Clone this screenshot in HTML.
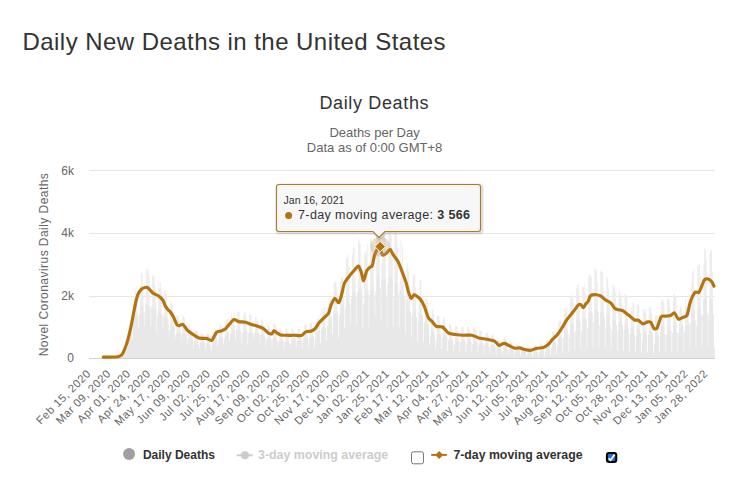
<!DOCTYPE html>
<html><head><meta charset="utf-8"><style>
html,body{margin:0;padding:0;background:#fff;width:742px;height:477px;overflow:hidden}
svg{display:block;font-family:"Liberation Sans",sans-serif}
</style></head><body>
<svg width="742" height="477" viewBox="0 0 742 477">
<text x="22.5" y="49.8" font-size="24" letter-spacing="0.45" fill="#333">Daily New Deaths in the United States</text>
<text x="374.3" y="109" font-size="18" letter-spacing="0.65" fill="#333" text-anchor="middle">Daily Deaths</text>
<text x="374.6" y="137.2" font-size="13" fill="#666" text-anchor="middle">Deaths per Day</text>
<text x="374.6" y="151.9" font-size="13" fill="#666" text-anchor="middle">Data as of 0:00 GMT+8</text>
<g fill="#e6e6e6" shape-rendering="crispEdges">
<rect x="89" y="170" width="626" height="1"/>
<rect x="89" y="233" width="626" height="1"/>
<rect x="89" y="296" width="626" height="1"/>
</g>
<g fill="#e9e9e9"><path fill="#ededed" d="M119.25 358.0 L119.25 356.10 L120.12 356.10 L120.12 356.40 L120.98 356.40 L120.98 354.86 L121.85 354.86 L121.85 352.23 L122.71 352.23 L122.71 350.06 L123.58 350.06 L123.58 347.90 L124.44 347.90 L124.44 345.78 L125.31 345.78 L125.31 348.34 L126.18 348.34 L126.18 351.02 L127.04 351.02 L127.04 347.59 L127.91 347.59 L127.91 331.43 L128.77 331.43 L128.77 327.11 L129.64 327.11 L129.64 322.78 L130.50 322.78 L130.50 323.62 L131.37 323.62 L131.37 331.28 L132.23 331.28 L132.23 339.22 L133.10 339.22 L133.10 323.06 L133.96 323.06 L133.96 296.17 L134.83 296.17 L134.83 290.53 L135.69 290.53 L135.69 286.31 L136.56 286.31 L136.56 297.12 L137.42 297.12 L137.42 316.24 L138.29 316.24 L138.29 327.91 L139.15 327.91 L139.15 313.45 L140.02 313.45 L140.02 285.65 L140.89 285.65 L140.89 271.71 L141.75 271.71 L141.75 273.93 L142.62 273.93 L142.62 290.00 L143.48 290.00 L143.48 311.65 L144.35 311.65 L144.35 326.41 L145.21 326.41 L145.21 302.45 L146.08 302.45 L146.08 269.25 L146.94 269.25 L146.94 269.25 L147.81 269.25 L147.81 270.18 L148.67 270.18 L148.67 276.05 L149.54 276.05 L149.54 306.63 L150.40 306.63 L150.40 326.35 L151.27 326.35 L151.27 305.04 L152.13 305.04 L152.13 275.58 L153.00 275.58 L153.00 276.67 L153.86 276.67 L153.86 277.23 L154.73 277.23 L154.73 285.51 L155.60 285.51 L155.60 303.29 L156.46 303.29 L156.46 333.50 L157.33 333.50 L157.33 315.80 L158.19 315.80 L158.19 282.30 L159.06 282.30 L159.06 287.83 L159.92 287.83 L159.92 281.99 L160.79 281.99 L160.79 288.49 L161.65 288.49 L161.65 315.75 L162.52 315.75 L162.52 328.63 L163.38 328.63 L163.38 314.38 L164.25 314.38 L164.25 290.42 L165.11 290.42 L165.11 292.95 L165.98 292.95 L165.98 294.28 L166.84 294.28 L166.84 310.32 L167.71 310.32 L167.71 317.93 L168.57 317.93 L168.57 335.52 L169.44 335.52 L169.44 330.16 L170.31 330.16 L170.31 300.69 L171.17 300.69 L171.17 302.37 L172.04 302.37 L172.04 304.06 L172.90 304.06 L172.90 313.96 L173.77 313.96 L173.77 327.24 L174.63 327.24 L174.63 340.60 L175.50 340.60 L175.50 334.45 L176.36 334.45 L176.36 315.31 L177.23 315.31 L177.23 315.83 L178.09 315.83 L178.09 316.35 L178.96 316.35 L178.96 323.64 L179.82 323.64 L179.82 329.53 L180.69 329.53 L180.69 342.21 L181.55 342.21 L181.55 334.10 L182.42 334.10 L182.42 315.33 L183.29 315.33 L183.29 316.71 L184.15 316.71 L184.15 318.10 L185.02 318.10 L185.02 329.39 L185.88 329.39 L185.88 333.01 L186.75 333.01 L186.75 344.72 L187.61 344.72 L187.61 338.24 L188.48 338.24 L188.48 325.76 L189.34 325.76 L189.34 324.91 L190.21 324.91 L190.21 329.43 L191.07 329.43 L191.07 328.71 L191.94 328.71 L191.94 336.60 L192.80 336.60 L192.80 349.09 L193.67 349.09 L193.67 341.73 L194.53 341.73 L194.53 331.78 L195.40 331.78 L195.40 330.11 L196.26 330.11 L196.26 330.78 L197.13 330.78 L197.13 331.44 L198.00 331.44 L198.00 344.80 L198.86 344.80 L198.86 349.38 L199.73 349.38 L199.73 342.27 L200.59 342.27 L200.59 332.60 L201.46 332.60 L201.46 332.79 L202.32 332.79 L202.32 334.44 L203.19 334.44 L203.19 335.19 L204.05 335.19 L204.05 342.49 L204.92 342.49 L204.92 349.26 L205.78 349.26 L205.78 344.63 L206.65 344.63 L206.65 333.19 L207.51 333.19 L207.51 333.59 L208.38 333.59 L208.38 333.99 L209.24 333.99 L209.24 337.65 L210.11 337.65 L210.11 345.50 L210.97 345.50 L210.97 350.30 L211.84 350.30 L211.84 342.78 L212.71 342.78 L212.71 332.49 L213.57 332.49 L213.57 332.21 L214.44 332.21 L214.44 328.76 L215.30 328.76 L215.30 329.13 L216.17 329.13 L216.17 333.46 L217.03 333.46 L217.03 346.18 L217.90 346.18 L217.90 339.71 L218.76 339.71 L218.76 327.55 L219.63 327.55 L219.63 324.02 L220.49 324.02 L220.49 323.72 L221.36 323.72 L221.36 329.89 L222.22 329.89 L222.22 337.61 L223.09 337.61 L223.09 344.54 L223.95 344.54 L223.95 338.87 L224.82 338.87 L224.82 321.15 L225.68 321.15 L225.68 319.92 L226.55 319.92 L226.55 318.65 L227.42 318.65 L227.42 318.28 L228.28 318.28 L228.28 332.05 L229.15 332.05 L229.15 341.29 L230.01 341.29 L230.01 333.67 L230.88 333.67 L230.88 312.69 L231.74 312.69 L231.74 317.82 L232.61 317.82 L232.61 316.83 L233.47 316.83 L233.47 311.72 L234.34 311.72 L234.34 329.89 L235.20 329.89 L235.20 340.04 L236.07 340.04 L236.07 329.33 L236.93 329.33 L236.93 311.13 L237.80 311.13 L237.80 311.61 L238.66 311.61 L238.66 311.92 L239.53 311.92 L239.53 317.92 L240.39 317.92 L240.39 331.61 L241.26 331.61 L241.26 342.94 L242.13 342.94 L242.13 333.03 L242.99 333.03 L242.99 315.24 L243.86 315.24 L243.86 312.49 L244.72 312.49 L244.72 312.59 L245.59 312.59 L245.59 317.22 L246.45 317.22 L246.45 331.30 L247.32 331.30 L247.32 345.31 L248.18 345.31 L248.18 332.99 L249.05 332.99 L249.05 314.56 L249.91 314.56 L249.91 314.98 L250.78 314.98 L250.78 315.37 L251.64 315.37 L251.64 323.10 L252.51 323.10 L252.51 333.92 L253.37 333.92 L253.37 340.24 L254.24 340.24 L254.24 332.46 L255.10 332.46 L255.10 316.98 L255.97 316.98 L255.97 317.30 L256.84 317.30 L256.84 320.44 L257.70 320.44 L257.70 321.38 L258.57 321.38 L258.57 332.40 L259.43 332.40 L259.43 343.31 L260.30 343.31 L260.30 334.51 L261.16 334.51 L261.16 319.60 L262.03 319.60 L262.03 320.00 L262.89 320.00 L262.89 325.80 L263.76 325.80 L263.76 326.37 L264.62 326.37 L264.62 337.66 L265.49 337.66 L265.49 345.55 L266.35 345.55 L266.35 339.54 L267.22 339.54 L267.22 325.27 L268.08 325.27 L268.08 326.29 L268.95 326.29 L268.95 326.72 L269.82 326.72 L269.82 329.68 L270.68 329.68 L270.68 338.66 L271.55 338.66 L271.55 347.48 L272.41 347.48 L272.41 339.54 L273.28 339.54 L273.28 323.67 L274.14 323.67 L274.14 324.09 L275.01 324.09 L275.01 324.76 L275.87 324.76 L275.87 327.61 L276.74 327.61 L276.74 340.89 L277.60 340.89 L277.60 345.94 L278.47 345.94 L278.47 341.75 L279.33 341.75 L279.33 328.53 L280.20 328.53 L280.20 328.53 L281.06 328.53 L281.06 329.91 L281.93 329.91 L281.93 331.42 L282.79 331.42 L282.79 341.03 L283.66 341.03 L283.66 348.91 L284.53 348.91 L284.53 342.78 L285.39 342.78 L285.39 328.83 L286.26 328.83 L286.26 328.87 L287.12 328.87 L287.12 331.94 L287.99 331.94 L287.99 332.37 L288.85 332.37 L288.85 342.96 L289.72 342.96 L289.72 346.24 L290.58 346.24 L290.58 344.03 L291.45 344.03 L291.45 328.83 L292.31 328.83 L292.31 328.82 L293.18 328.82 L293.18 332.72 L294.04 332.72 L294.04 331.61 L294.91 331.61 L294.91 338.51 L295.77 338.51 L295.77 347.73 L296.64 347.73 L296.64 341.22 L297.50 341.22 L297.50 328.90 L298.37 328.90 L298.37 328.92 L299.24 328.92 L299.24 328.94 L300.10 328.94 L300.10 332.85 L300.97 332.85 L300.97 339.35 L301.83 339.35 L301.83 349.04 L302.70 349.04 L302.70 339.41 L303.56 339.41 L303.56 326.13 L304.43 326.13 L304.43 325.67 L305.29 325.67 L305.29 324.53 L306.16 324.53 L306.16 324.31 L307.02 324.31 L307.02 335.66 L307.89 335.66 L307.89 347.46 L308.75 347.46 L308.75 337.63 L309.62 337.63 L309.62 323.42 L310.48 323.42 L310.48 323.19 L311.35 323.19 L311.35 322.80 L312.21 322.80 L312.21 333.85 L313.08 333.85 L313.08 335.67 L313.95 335.67 L313.95 347.27 L314.81 347.27 L314.81 338.48 L315.68 338.48 L315.68 322.11 L316.54 322.11 L316.54 319.17 L317.41 319.17 L317.41 318.49 L318.27 318.49 L318.27 315.71 L319.14 315.71 L319.14 326.05 L320.00 326.05 L320.00 343.21 L320.87 343.21 L320.87 328.71 L321.73 328.71 L321.73 308.57 L322.60 308.57 L322.60 312.76 L323.46 312.76 L323.46 306.34 L324.33 306.34 L324.33 309.89 L325.19 309.89 L325.19 327.51 L326.06 327.51 L326.06 340.50 L326.92 340.50 L326.92 325.77 L327.79 325.77 L327.79 302.53 L328.66 302.53 L328.66 301.28 L329.52 301.28 L329.52 294.86 L330.39 294.86 L330.39 300.52 L331.25 300.52 L331.25 318.46 L332.12 318.46 L332.12 334.10 L332.98 334.10 L332.98 311.33 L333.85 311.33 L333.85 282.17 L334.71 282.17 L334.71 281.46 L335.58 281.46 L335.58 282.74 L336.44 282.74 L336.44 289.02 L337.31 289.02 L337.31 311.07 L338.17 311.07 L338.17 337.57 L339.04 337.57 L339.04 315.40 L339.90 315.40 L339.90 280.82 L340.77 280.82 L340.77 277.70 L341.63 277.70 L341.63 278.01 L342.50 278.01 L342.50 276.24 L343.37 276.24 L343.37 297.03 L344.23 297.03 L344.23 328.57 L345.10 328.57 L345.10 308.43 L345.96 308.43 L345.96 257.65 L346.83 257.65 L346.83 259.00 L347.69 259.00 L347.69 254.42 L348.56 254.42 L348.56 266.82 L349.42 266.82 L349.42 303.68 L350.29 303.68 L350.29 323.23 L351.15 323.23 L351.15 298.18 L352.02 298.18 L352.02 254.15 L352.88 254.15 L352.88 245.94 L353.75 245.94 L353.75 248.09 L354.61 248.09 L354.61 277.59 L355.48 277.59 L355.48 296.12 L356.35 296.12 L356.35 324.27 L357.21 324.27 L357.21 292.16 L358.08 292.16 L358.08 238.91 L358.94 238.91 L358.94 241.41 L359.81 241.41 L359.81 243.91 L360.67 243.91 L360.67 263.40 L361.54 263.40 L361.54 289.01 L362.40 289.01 L362.40 328.89 L363.27 328.89 L363.27 303.94 L364.13 303.94 L364.13 253.62 L365.00 253.62 L365.00 250.62 L365.86 250.62 L365.86 252.94 L366.73 252.94 L366.73 244.51 L367.59 244.51 L367.59 290.35 L368.46 290.35 L368.46 327.33 L369.32 327.33 L369.32 294.88 L370.19 294.88 L370.19 239.19 L371.06 239.19 L371.06 238.30 L371.92 238.30 L371.92 243.95 L372.79 243.95 L372.79 246.46 L373.65 246.46 L373.65 295.71 L374.52 295.71 L374.52 317.45 L375.38 317.45 L375.38 291.16 L376.25 291.16 L376.25 233.44 L377.11 233.44 L377.11 216.72 L377.98 216.72 L377.98 218.10 L378.84 218.10 L378.84 231.80 L379.71 231.80 L379.71 287.55 L380.57 287.55 L380.57 320.38 L381.44 320.38 L381.44 262.85 L382.30 262.85 L382.30 233.22 L383.17 233.22 L383.17 222.85 L384.03 222.85 L384.03 224.71 L384.90 224.71 L384.90 238.20 L385.77 238.20 L385.77 295.35 L386.63 295.35 L386.63 326.89 L387.50 326.89 L387.50 284.09 L388.36 284.09 L388.36 217.35 L389.23 217.35 L389.23 216.09 L390.09 216.09 L390.09 224.65 L390.96 224.65 L390.96 235.74 L391.82 235.74 L391.82 259.31 L392.69 259.31 L392.69 326.76 L393.55 326.76 L393.55 296.58 L394.42 296.58 L394.42 225.45 L395.28 225.45 L395.28 227.02 L396.15 227.02 L396.15 228.60 L397.01 228.60 L397.01 246.69 L397.88 246.69 L397.88 293.72 L398.74 293.72 L398.74 327.31 L399.61 327.31 L399.61 281.95 L400.48 281.95 L400.48 240.44 L401.34 240.44 L401.34 265.55 L402.21 265.55 L402.21 246.21 L403.07 246.21 L403.07 272.76 L403.94 272.76 L403.94 296.37 L404.80 296.37 L404.80 333.94 L405.67 333.94 L405.67 299.10 L406.53 299.10 L406.53 262.93 L407.40 262.93 L407.40 267.45 L408.26 267.45 L408.26 271.29 L409.13 271.29 L409.13 286.13 L409.99 286.13 L409.99 311.95 L410.86 311.95 L410.86 337.15 L411.72 337.15 L411.72 316.24 L412.59 316.24 L412.59 276.16 L413.45 276.16 L413.45 274.73 L414.32 274.73 L414.32 274.48 L415.19 274.48 L415.19 287.71 L416.05 287.71 L416.05 317.08 L416.92 317.08 L416.92 340.53 L417.78 340.53 L417.78 321.22 L418.65 321.22 L418.65 297.01 L419.51 297.01 L419.51 279.42 L420.38 279.42 L420.38 281.05 L421.24 281.05 L421.24 295.23 L422.11 295.23 L422.11 314.47 L422.97 314.47 L422.97 341.44 L423.84 341.44 L423.84 323.30 L424.70 323.30 L424.70 305.36 L425.57 305.36 L425.57 295.60 L426.43 295.60 L426.43 298.82 L427.30 298.82 L427.30 302.48 L428.16 302.48 L428.16 323.88 L429.03 323.88 L429.03 344.90 L429.90 344.90 L429.90 336.05 L430.76 336.05 L430.76 316.13 L431.63 316.13 L431.63 308.90 L432.49 308.90 L432.49 310.20 L433.36 310.20 L433.36 314.50 L434.22 314.50 L434.22 334.19 L435.09 334.19 L435.09 348.45 L435.95 348.45 L435.95 340.61 L436.82 340.61 L436.82 315.42 L437.68 315.42 L437.68 315.53 L438.55 315.53 L438.55 315.65 L439.41 315.65 L439.41 320.34 L440.28 320.34 L440.28 335.92 L441.14 335.92 L441.14 348.99 L442.01 348.99 L442.01 338.10 L442.88 338.10 L442.88 317.19 L443.74 317.19 L443.74 318.32 L444.61 318.32 L444.61 321.09 L445.47 321.09 L445.47 328.03 L446.34 328.03 L446.34 335.54 L447.20 335.54 L447.20 350.95 L448.07 350.95 L448.07 340.36 L448.93 340.36 L448.93 324.36 L449.80 324.36 L449.80 324.59 L450.66 324.59 L450.66 326.89 L451.53 326.89 L451.53 329.63 L452.39 329.63 L452.39 340.40 L453.26 340.40 L453.26 351.18 L454.12 351.18 L454.12 344.78 L454.99 344.78 L454.99 325.95 L455.85 325.95 L455.85 326.04 L456.72 326.04 L456.72 326.13 L457.59 326.13 L457.59 337.37 L458.45 337.37 L458.45 340.75 L459.32 340.75 L459.32 352.24 L460.18 352.24 L460.18 342.69 L461.05 342.69 L461.05 326.57 L461.91 326.57 L461.91 326.66 L462.78 326.66 L462.78 326.75 L463.64 326.75 L463.64 330.58 L464.51 330.58 L464.51 341.11 L465.37 341.11 L465.37 351.92 L466.24 351.92 L466.24 344.64 L467.10 344.64 L467.10 326.75 L467.97 326.75 L467.97 326.74 L468.83 326.74 L468.83 328.88 L469.70 328.88 L469.70 331.59 L470.56 331.59 L470.56 342.24 L471.43 342.24 L471.43 351.85 L472.30 351.85 L472.30 343.91 L473.16 343.91 L473.16 327.63 L474.03 327.63 L474.03 328.09 L474.89 328.09 L474.89 328.54 L475.76 328.54 L475.76 330.33 L476.62 330.33 L476.62 342.48 L477.49 342.48 L477.49 353.06 L478.35 353.06 L478.35 345.90 L479.22 345.90 L479.22 330.49 L480.08 330.49 L480.08 330.68 L480.95 330.68 L480.95 330.87 L481.81 330.87 L481.81 338.60 L482.68 338.60 L482.68 344.43 L483.54 344.43 L483.54 354.06 L484.41 354.06 L484.41 345.87 L485.27 345.87 L485.27 333.38 L486.14 333.38 L486.14 332.45 L487.01 332.45 L487.01 332.27 L487.87 332.27 L487.87 336.68 L488.74 336.68 L488.74 347.37 L489.60 347.37 L489.60 353.51 L490.47 353.51 L490.47 344.56 L491.33 344.56 L491.33 335.84 L492.20 335.84 L492.20 333.96 L493.06 333.96 L493.06 335.58 L493.93 335.58 L493.93 339.18 L494.79 339.18 L494.79 346.70 L495.66 346.70 L495.66 354.97 L496.52 354.97 L496.52 347.66 L497.39 347.66 L497.39 338.64 L498.25 338.64 L498.25 339.81 L499.12 339.81 L499.12 340.22 L499.98 340.22 L499.98 344.79 L500.85 344.79 L500.85 348.86 L501.72 348.86 L501.72 354.65 L502.58 354.65 L502.58 350.75 L503.45 350.75 L503.45 337.79 L504.31 337.79 L504.31 337.64 L505.18 337.64 L505.18 338.22 L506.04 338.22 L506.04 339.65 L506.91 339.65 L506.91 349.15 L507.77 349.15 L507.77 355.44 L508.64 355.44 L508.64 349.97 L509.50 349.97 L509.50 341.10 L510.37 341.10 L510.37 341.68 L511.23 341.68 L511.23 342.26 L512.10 342.26 L512.10 343.10 L512.96 343.10 L512.96 350.59 L513.83 350.59 L513.83 355.93 L514.69 355.93 L514.69 351.43 L515.56 351.43 L515.56 345.59 L516.43 345.59 L516.43 343.67 L517.29 343.67 L517.29 344.98 L518.16 344.98 L518.16 343.57 L519.02 343.57 L519.02 350.37 L519.89 350.37 L519.89 355.93 L520.75 355.93 L520.75 352.14 L521.62 352.14 L521.62 347.25 L522.48 347.25 L522.48 345.00 L523.35 345.00 L523.35 345.40 L524.21 345.40 L524.21 348.45 L525.08 348.45 L525.08 351.66 L525.94 351.66 L525.94 356.22 L526.81 356.22 L526.81 353.70 L527.67 353.70 L527.67 346.31 L528.54 346.31 L528.54 346.46 L529.41 346.46 L529.41 346.61 L530.27 346.61 L530.27 348.64 L531.14 348.64 L531.14 351.89 L532.00 351.89 L532.00 356.63 L532.87 356.63 L532.87 352.64 L533.73 352.64 L533.73 345.15 L534.60 345.15 L534.60 344.88 L535.46 344.88 L535.46 344.35 L536.33 344.35 L536.33 346.74 L537.19 346.74 L537.19 352.55 L538.06 352.55 L538.06 356.16 L538.92 356.16 L538.92 352.46 L539.79 352.46 L539.79 343.40 L540.65 343.40 L540.65 343.30 L541.52 343.30 L541.52 343.17 L542.38 343.17 L542.38 346.43 L543.25 346.43 L543.25 350.36 L544.12 350.36 L544.12 356.12 L544.98 356.12 L544.98 351.16 L545.85 351.16 L545.85 340.43 L546.71 340.43 L546.71 339.69 L547.58 339.69 L547.58 339.45 L548.44 339.45 L548.44 343.05 L549.31 343.05 L549.31 346.34 L550.17 346.34 L550.17 355.01 L551.04 355.01 L551.04 348.04 L551.90 348.04 L551.90 331.92 L552.77 331.92 L552.77 330.64 L553.63 330.64 L553.63 332.02 L554.50 332.02 L554.50 335.26 L555.36 335.26 L555.36 342.81 L556.23 342.81 L556.23 354.20 L557.09 354.20 L557.09 345.24 L557.96 345.24 L557.96 322.92 L558.83 322.92 L558.83 321.12 L559.69 321.12 L559.69 319.33 L560.56 319.33 L560.56 320.79 L561.42 320.79 L561.42 338.62 L562.29 338.62 L562.29 353.17 L563.15 353.17 L563.15 338.10 L564.02 338.10 L564.02 309.73 L564.88 309.73 L564.88 307.70 L565.75 307.70 L565.75 311.61 L566.61 311.61 L566.61 306.39 L567.48 306.39 L567.48 333.86 L568.34 333.86 L568.34 351.81 L569.21 351.81 L569.21 337.30 L570.07 337.30 L570.07 297.61 L570.94 297.61 L570.94 296.08 L571.80 296.08 L571.80 294.55 L572.67 294.55 L572.67 299.49 L573.54 299.49 L573.54 331.80 L574.40 331.80 L574.40 350.67 L575.27 350.67 L575.27 331.12 L576.13 331.12 L576.13 288.67 L577.00 288.67 L577.00 285.25 L577.86 285.25 L577.86 283.70 L578.73 283.70 L578.73 295.85 L579.59 295.85 L579.59 321.50 L580.46 321.50 L580.46 349.93 L581.32 349.93 L581.32 331.06 L582.19 331.06 L582.19 287.25 L583.05 287.25 L583.05 286.98 L583.92 286.98 L583.92 284.99 L584.78 284.99 L584.78 292.21 L585.65 292.21 L585.65 318.81 L586.51 318.81 L586.51 349.63 L587.38 349.63 L587.38 328.15 L588.25 328.15 L588.25 276.28 L589.11 276.28 L589.11 274.75 L589.98 274.75 L589.98 273.95 L590.84 273.95 L590.84 277.58 L591.71 277.58 L591.71 312.96 L592.57 312.96 L592.57 348.51 L593.44 348.51 L593.44 322.55 L594.30 322.55 L594.30 269.00 L595.17 269.00 L595.17 268.78 L596.03 268.78 L596.03 271.04 L596.90 271.04 L596.90 281.93 L597.76 281.93 L597.76 311.99 L598.63 311.99 L598.63 348.56 L599.49 348.56 L599.49 325.22 L600.36 325.22 L600.36 270.61 L601.22 270.61 L601.22 271.61 L602.09 271.61 L602.09 272.62 L602.96 272.62 L602.96 286.99 L603.82 286.99 L603.82 317.58 L604.69 317.58 L604.69 349.17 L605.55 349.17 L605.55 328.35 L606.42 328.35 L606.42 277.14 L607.28 277.14 L607.28 277.85 L608.15 277.85 L608.15 288.29 L609.01 288.29 L609.01 300.63 L609.88 300.63 L609.88 325.45 L610.74 325.45 L610.74 349.75 L611.61 349.75 L611.61 331.08 L612.47 331.08 L612.47 284.21 L613.34 284.21 L613.34 285.84 L614.20 285.84 L614.20 287.58 L615.07 287.58 L615.07 292.64 L615.94 292.64 L615.94 325.18 L616.80 325.18 L616.80 350.61 L617.67 350.61 L617.67 331.47 L618.53 331.47 L618.53 292.01 L619.40 292.01 L619.40 290.16 L620.26 290.16 L620.26 297.40 L621.13 297.40 L621.13 294.81 L621.99 294.81 L621.99 325.40 L622.86 325.40 L622.86 350.89 L623.72 350.89 L623.72 329.94 L624.59 329.94 L624.59 293.47 L625.45 293.47 L625.45 294.37 L626.32 294.37 L626.32 295.28 L627.18 295.28 L627.18 315.99 L628.05 315.99 L628.05 329.32 L628.91 329.32 L628.91 351.58 L629.78 351.58 L629.78 333.44 L630.65 333.44 L630.65 306.91 L631.51 306.91 L631.51 310.41 L632.38 310.41 L632.38 302.20 L633.24 302.20 L633.24 303.23 L634.11 303.23 L634.11 334.73 L634.97 334.73 L634.97 352.24 L635.84 352.24 L635.84 336.41 L636.70 336.41 L636.70 304.39 L637.57 304.39 L637.57 304.49 L638.43 304.49 L638.43 305.13 L639.30 305.13 L639.30 320.27 L640.16 320.27 L640.16 333.25 L641.03 333.25 L641.03 352.63 L641.89 352.63 L641.89 341.24 L642.76 341.24 L642.76 309.45 L643.62 309.45 L643.62 308.93 L644.49 308.93 L644.49 312.54 L645.36 312.54 L645.36 309.27 L646.22 309.27 L646.22 334.63 L647.09 334.63 L647.09 352.52 L647.95 352.52 L647.95 334.63 L648.82 334.63 L648.82 307.10 L649.68 307.10 L649.68 307.29 L650.55 307.29 L650.55 307.68 L651.41 307.68 L651.41 313.20 L652.28 313.20 L652.28 335.25 L653.14 335.25 L653.14 353.39 L654.01 353.39 L654.01 343.92 L654.87 343.92 L654.87 315.73 L655.74 315.73 L655.74 315.45 L656.60 315.45 L656.60 315.18 L657.47 315.18 L657.47 324.03 L658.33 324.03 L658.33 335.79 L659.20 335.79 L659.20 352.37 L660.07 352.37 L660.07 332.14 L660.93 332.14 L660.93 301.72 L661.80 301.72 L661.80 299.49 L662.66 299.49 L662.66 299.62 L663.53 299.62 L663.53 303.29 L664.39 303.29 L664.39 334.70 L665.26 334.70 L665.26 351.64 L666.12 351.64 L666.12 334.85 L666.99 334.85 L666.99 298.40 L667.85 298.40 L667.85 298.27 L668.72 298.27 L668.72 300.16 L669.58 300.16 L669.58 307.10 L670.45 307.10 L670.45 331.29 L671.31 331.29 L671.31 351.44 L672.18 351.44 L672.18 333.56 L673.04 333.56 L673.04 295.05 L673.91 295.05 L673.91 294.22 L674.78 294.22 L674.78 295.94 L675.64 295.94 L675.64 297.85 L676.51 297.85 L676.51 332.57 L677.37 332.57 L677.37 351.96 L678.24 351.96 L678.24 332.85 L679.10 332.85 L679.10 310.59 L679.97 310.59 L679.97 305.29 L680.83 305.29 L680.83 307.40 L681.70 307.40 L681.70 311.17 L682.56 311.17 L682.56 325.02 L683.43 325.02 L683.43 351.75 L684.29 351.75 L684.29 331.74 L685.16 331.74 L685.16 298.48 L686.02 298.48 L686.02 306.52 L686.89 306.52 L686.89 309.46 L687.75 309.46 L687.75 296.61 L688.62 296.61 L688.62 324.25 L689.49 324.25 L689.49 349.74 L690.35 349.74 L690.35 322.57 L691.22 322.57 L691.22 282.76 L692.08 282.76 L692.08 272.70 L692.95 272.70 L692.95 270.12 L693.81 270.12 L693.81 288.78 L694.68 288.78 L694.68 320.27 L695.54 320.27 L695.54 348.10 L696.41 348.10 L696.41 325.28 L697.27 325.28 L697.27 265.60 L698.14 265.60 L698.14 265.60 L699.00 265.60 L699.00 263.78 L699.87 263.78 L699.87 277.12 L700.73 277.12 L700.73 314.41 L701.60 314.41 L701.60 347.05 L702.47 347.05 L702.47 315.18 L703.33 315.18 L703.33 263.72 L704.20 263.72 L704.20 247.87 L705.06 247.87 L705.06 250.58 L705.93 250.58 L705.93 260.11 L706.79 260.11 L706.79 313.47 L707.66 313.47 L707.66 346.09 L708.52 346.09 L708.52 315.51 L709.39 315.51 L709.39 253.89 L710.25 253.89 L710.25 249.70 L711.12 249.70 L711.12 250.69 L711.98 250.69 L711.98 272.00 L712.85 272.00 L712.85 314.80 L713.71 314.80 L713.71 347.15 L714.58 347.15 L714.58 358.0 Z"/><path fill="#e8e8e8" d="M119.25 358.0 L119.25 356.16 L120.12 356.16 L120.12 356.40 L120.98 356.40 L120.98 355.08 L121.85 355.08 L121.85 354.54 L122.71 354.54 L122.71 353.24 L123.58 353.24 L123.58 351.68 L124.44 351.68 L124.44 350.13 L125.31 350.13 L125.31 348.57 L126.18 348.57 L126.18 351.02 L127.04 351.02 L127.04 347.59 L127.91 347.59 L127.91 342.06 L128.77 342.06 L128.77 339.46 L129.64 339.46 L129.64 336.87 L130.50 336.87 L130.50 334.27 L131.37 334.27 L131.37 331.28 L132.23 331.28 L132.23 339.22 L133.10 339.22 L133.10 324.28 L133.96 324.28 L133.96 320.90 L134.83 320.90 L134.83 317.52 L135.69 317.52 L135.69 314.98 L136.56 314.98 L136.56 312.61 L137.42 312.61 L137.42 316.24 L138.29 316.24 L138.29 327.91 L139.15 327.91 L139.15 313.45 L140.02 313.45 L140.02 307.17 L140.89 307.17 L140.89 306.22 L141.75 306.22 L141.75 305.77 L142.62 305.77 L142.62 305.44 L143.48 305.44 L143.48 311.65 L144.35 311.65 L144.35 326.41 L145.21 326.41 L145.21 304.75 L146.08 304.75 L146.08 304.75 L146.94 304.75 L146.94 304.75 L147.81 304.75 L147.81 305.31 L148.67 305.31 L148.67 305.95 L149.54 305.95 L149.54 306.63 L150.40 306.63 L150.40 326.35 L151.27 326.35 L151.27 307.90 L152.13 307.90 L152.13 308.55 L153.00 308.55 L153.00 309.20 L153.86 309.20 L153.86 309.54 L154.73 309.54 L154.73 309.85 L155.60 309.85 L155.60 310.16 L156.46 310.16 L156.46 333.50 L157.33 333.50 L157.33 315.80 L158.19 315.80 L158.19 311.10 L159.06 311.10 L159.06 311.73 L159.92 311.73 L159.92 312.39 L160.79 312.39 L160.79 313.06 L161.65 313.06 L161.65 315.75 L162.52 315.75 L162.52 328.63 L163.38 328.63 L163.38 315.89 L164.25 315.89 L164.25 317.45 L165.11 317.45 L165.11 318.97 L165.98 318.97 L165.98 319.77 L166.84 319.77 L166.84 320.56 L167.71 320.56 L167.71 321.36 L168.57 321.36 L168.57 335.52 L169.44 335.52 L169.44 330.16 L170.31 330.16 L170.31 323.61 L171.17 323.61 L171.17 324.62 L172.04 324.62 L172.04 325.64 L172.90 325.64 L172.90 326.65 L173.77 326.65 L173.77 328.09 L174.63 328.09 L174.63 340.60 L175.50 340.60 L175.50 334.45 L176.36 334.45 L176.36 332.38 L177.23 332.38 L177.23 332.70 L178.09 332.70 L178.09 333.01 L178.96 333.01 L178.96 333.32 L179.82 333.32 L179.82 333.08 L180.69 333.08 L180.69 342.21 L181.55 342.21 L181.55 334.10 L182.42 334.10 L182.42 332.40 L183.29 332.40 L183.29 333.23 L184.15 333.23 L184.15 334.06 L185.02 334.06 L185.02 334.89 L185.88 334.89 L185.88 335.71 L186.75 335.71 L186.75 344.72 L187.61 344.72 L187.61 338.24 L188.48 338.24 L188.48 337.65 L189.34 337.65 L189.34 338.15 L190.21 338.15 L190.21 338.64 L191.07 338.64 L191.07 339.13 L191.94 339.13 L191.94 339.62 L192.80 339.62 L192.80 349.09 L193.67 349.09 L193.67 341.73 L194.53 341.73 L194.53 340.87 L195.40 340.87 L195.40 341.27 L196.26 341.27 L196.26 341.67 L197.13 341.67 L197.13 342.06 L198.00 342.06 L198.00 344.80 L198.86 344.80 L198.86 349.38 L199.73 349.38 L199.73 342.64 L200.59 342.64 L200.59 342.76 L201.46 342.76 L201.46 342.87 L202.32 342.87 L202.32 342.92 L203.19 342.92 L203.19 342.92 L204.05 342.92 L204.05 342.92 L204.92 342.92 L204.92 349.26 L205.78 349.26 L205.78 344.63 L206.65 344.63 L206.65 343.11 L207.51 343.11 L207.51 343.35 L208.38 343.35 L208.38 343.59 L209.24 343.59 L209.24 343.84 L210.11 343.84 L210.11 345.50 L210.97 345.50 L210.97 350.30 L211.84 350.30 L211.84 343.81 L212.71 343.81 L212.71 342.70 L213.57 342.70 L213.57 341.58 L214.44 341.58 L214.44 340.46 L215.30 340.46 L215.30 339.34 L216.17 339.34 L216.17 338.33 L217.03 338.33 L217.03 346.18 L217.90 346.18 L217.90 339.71 L218.76 339.71 L218.76 337.79 L219.63 337.79 L219.63 337.61 L220.49 337.61 L220.49 337.43 L221.36 337.43 L221.36 337.16 L222.22 337.16 L222.22 337.61 L223.09 337.61 L223.09 344.54 L223.95 344.54 L223.95 338.87 L224.82 338.87 L224.82 335.89 L225.68 335.89 L225.68 335.15 L226.55 335.15 L226.55 334.39 L227.42 334.39 L227.42 333.63 L228.28 333.63 L228.28 332.87 L229.15 332.87 L229.15 341.29 L230.01 341.29 L230.01 333.67 L230.88 333.67 L230.88 330.81 L231.74 330.81 L231.74 330.15 L232.61 330.15 L232.61 329.49 L233.47 329.49 L233.47 328.82 L234.34 328.82 L234.34 329.89 L235.20 329.89 L235.20 340.04 L236.07 340.04 L236.07 329.59 L236.93 329.59 L236.93 329.88 L237.80 329.88 L237.80 330.17 L238.66 330.17 L238.66 330.35 L239.53 330.35 L239.53 330.41 L240.39 330.41 L240.39 331.61 L241.26 331.61 L241.26 342.94 L242.13 342.94 L242.13 333.03 L242.99 333.03 L242.99 330.64 L243.86 330.64 L243.86 330.69 L244.72 330.69 L244.72 330.75 L245.59 330.75 L245.59 330.93 L246.45 330.93 L246.45 331.30 L247.32 331.30 L247.32 345.31 L248.18 345.31 L248.18 332.99 L249.05 332.99 L249.05 331.94 L249.91 331.94 L249.91 332.19 L250.78 332.19 L250.78 332.42 L251.64 332.42 L251.64 332.61 L252.51 332.61 L252.51 333.92 L253.37 333.92 L253.37 340.24 L254.24 340.24 L254.24 333.19 L255.10 333.19 L255.10 333.39 L255.97 333.39 L255.97 333.58 L256.84 333.58 L256.84 333.78 L257.70 333.78 L257.70 334.00 L258.57 334.00 L258.57 334.24 L259.43 334.24 L259.43 343.31 L260.30 343.31 L260.30 334.72 L261.16 334.72 L261.16 334.96 L262.03 334.96 L262.03 335.20 L262.89 335.20 L262.89 335.56 L263.76 335.56 L263.76 336.11 L264.62 336.11 L264.62 337.66 L265.49 337.66 L265.49 345.55 L266.35 345.55 L266.35 339.54 L267.22 339.54 L267.22 338.36 L268.08 338.36 L268.08 338.97 L268.95 338.97 L268.95 339.23 L269.82 339.23 L269.82 339.32 L270.68 339.32 L270.68 339.40 L271.55 339.40 L271.55 347.48 L272.41 347.48 L272.41 339.54 L273.28 339.54 L273.28 337.40 L274.14 337.40 L274.14 337.66 L275.01 337.66 L275.01 338.05 L275.87 338.05 L275.87 338.45 L276.74 338.45 L276.74 340.89 L277.60 340.89 L277.60 345.94 L278.47 345.94 L278.47 341.75 L279.33 341.75 L279.33 339.97 L280.20 339.97 L280.20 340.35 L281.06 340.35 L281.06 340.40 L281.93 340.40 L281.93 340.43 L282.79 340.43 L282.79 341.03 L283.66 341.03 L283.66 348.91 L284.53 348.91 L284.53 342.78 L285.39 342.78 L285.39 340.56 L286.26 340.56 L286.26 340.59 L287.12 340.59 L287.12 340.60 L287.99 340.60 L287.99 340.60 L288.85 340.60 L288.85 342.96 L289.72 342.96 L289.72 346.24 L290.58 346.24 L290.58 344.03 L291.45 344.03 L291.45 340.60 L292.31 340.60 L292.31 340.60 L293.18 340.60 L293.18 340.60 L294.04 340.60 L294.04 340.61 L294.91 340.61 L294.91 340.63 L295.77 340.63 L295.77 347.73 L296.64 347.73 L296.64 341.22 L297.50 341.22 L297.50 340.68 L298.37 340.68 L298.37 340.70 L299.24 340.70 L299.24 340.71 L300.10 340.71 L300.10 340.73 L300.97 340.73 L300.97 340.75 L301.83 340.75 L301.83 349.04 L302.70 349.04 L302.70 339.66 L303.56 339.66 L303.56 339.08 L304.43 339.08 L304.43 338.50 L305.29 338.50 L305.29 338.14 L306.16 338.14 L306.16 338.01 L307.02 338.01 L307.02 337.89 L307.89 337.89 L307.89 347.46 L308.75 347.46 L308.75 337.64 L309.62 337.64 L309.62 337.51 L310.48 337.51 L310.48 337.38 L311.35 337.38 L311.35 337.16 L312.21 337.16 L312.21 336.73 L313.08 336.73 L313.08 336.31 L313.95 336.31 L313.95 347.27 L314.81 347.27 L314.81 338.48 L315.68 338.48 L315.68 334.52 L316.54 334.52 L316.54 333.54 L317.41 333.54 L317.41 332.57 L318.27 332.57 L318.27 331.59 L319.14 331.59 L319.14 330.80 L320.00 330.80 L320.00 343.21 L320.87 343.21 L320.87 329.50 L321.73 329.50 L321.73 328.85 L322.60 328.85 L322.60 328.20 L323.46 328.20 L323.46 327.55 L324.33 327.55 L324.33 326.90 L325.19 326.90 L325.19 327.51 L326.06 327.51 L326.06 340.50 L326.92 340.50 L326.92 325.77 L327.79 325.77 L327.79 324.31 L328.66 324.31 L328.66 322.65 L329.52 322.65 L329.52 320.52 L330.39 320.52 L330.39 318.40 L331.25 318.40 L331.25 318.46 L332.12 318.46 L332.12 334.10 L332.98 334.10 L332.98 314.66 L333.85 314.66 L333.85 313.48 L334.71 313.48 L334.71 313.08 L335.58 313.08 L335.58 313.85 L336.44 313.85 L336.44 314.61 L337.31 314.61 L337.31 315.38 L338.17 315.38 L338.17 337.57 L339.04 337.57 L339.04 315.40 L339.90 315.40 L339.90 312.80 L340.77 312.80 L340.77 310.98 L341.63 310.98 L341.63 308.74 L342.50 308.74 L342.50 306.12 L343.37 306.12 L343.37 303.50 L344.23 303.50 L344.23 328.57 L345.10 328.57 L345.10 308.43 L345.96 308.43 L345.96 299.35 L346.83 299.35 L346.83 298.43 L347.69 298.43 L347.69 297.51 L348.56 297.51 L348.56 296.58 L349.42 296.58 L349.42 303.68 L350.29 303.68 L350.29 323.23 L351.15 323.23 L351.15 298.18 L352.02 298.18 L352.02 293.43 L352.88 293.43 L352.88 292.68 L353.75 292.68 L353.75 291.94 L354.61 291.94 L354.61 291.29 L355.48 291.29 L355.48 296.12 L356.35 296.12 L356.35 324.27 L357.21 324.27 L357.21 292.16 L358.08 292.16 L358.08 288.71 L358.94 288.71 L358.94 290.19 L359.81 290.19 L359.81 291.67 L360.67 291.67 L360.67 293.15 L361.54 293.15 L361.54 295.22 L362.40 295.22 L362.40 328.89 L363.27 328.89 L363.27 303.94 L364.13 303.94 L364.13 297.41 L365.00 297.41 L365.00 295.33 L365.86 295.33 L365.86 293.25 L366.73 293.25 L366.73 292.00 L367.59 292.00 L367.59 291.20 L368.46 291.20 L368.46 327.33 L369.32 327.33 L369.32 294.88 L370.19 294.88 L370.19 289.19 L371.06 289.19 L371.06 288.69 L371.92 288.69 L371.92 288.20 L372.79 288.20 L372.79 285.30 L373.65 285.30 L373.65 295.71 L374.52 295.71 L374.52 317.45 L375.38 317.45 L375.38 291.16 L376.25 291.16 L376.25 277.58 L377.11 277.58 L377.11 276.38 L377.98 276.38 L377.98 275.19 L378.84 275.19 L378.84 274.83 L379.71 274.83 L379.71 287.55 L380.57 287.55 L380.57 320.38 L381.44 320.38 L381.44 279.09 L382.30 279.09 L382.30 280.44 L383.17 280.44 L383.17 280.10 L384.03 280.10 L384.03 279.77 L384.90 279.77 L384.90 279.44 L385.77 279.44 L385.77 295.35 L386.63 295.35 L386.63 326.89 L387.50 326.89 L387.50 284.09 L388.36 284.09 L388.36 277.08 L389.23 277.08 L389.23 276.38 L390.09 276.38 L390.09 276.60 L390.96 276.60 L390.96 277.76 L391.82 277.76 L391.82 278.92 L392.69 278.92 L392.69 326.76 L393.55 326.76 L393.55 296.58 L394.42 296.58 L394.42 281.91 L395.28 281.91 L395.28 282.84 L396.15 282.84 L396.15 283.77 L397.01 283.77 L397.01 284.70 L397.88 284.70 L397.88 293.72 L398.74 293.72 L398.74 327.31 L399.61 327.31 L399.61 289.04 L400.48 289.04 L400.48 290.67 L401.34 290.67 L401.34 292.29 L402.21 292.29 L402.21 293.94 L403.07 293.94 L403.07 295.75 L403.94 295.75 L403.94 297.55 L404.80 297.55 L404.80 333.94 L405.67 333.94 L405.67 301.17 L406.53 301.17 L406.53 303.67 L407.40 303.67 L407.40 306.27 L408.26 306.27 L408.26 308.48 L409.13 308.48 L409.13 309.96 L409.99 309.96 L409.99 311.95 L410.86 311.95 L410.86 337.15 L411.72 337.15 L411.72 316.24 L412.59 316.24 L412.59 311.33 L413.45 311.33 L413.45 310.53 L414.32 310.53 L414.32 310.40 L415.19 310.40 L415.19 310.89 L416.05 310.89 L416.05 317.08 L416.92 317.08 L416.92 340.53 L417.78 340.53 L417.78 321.22 L418.65 321.22 L418.65 312.82 L419.51 312.82 L419.51 313.31 L420.38 313.31 L420.38 314.25 L421.24 314.25 L421.24 315.38 L422.11 315.38 L422.11 316.51 L422.97 316.51 L422.97 341.44 L423.84 341.44 L423.84 323.30 L424.70 323.30 L424.70 320.75 L425.57 320.75 L425.57 322.59 L426.43 322.59 L426.43 324.42 L427.30 324.42 L427.30 326.26 L428.16 326.26 L428.16 327.55 L429.03 327.55 L429.03 344.90 L429.90 344.90 L429.90 336.05 L430.76 336.05 L430.76 329.50 L431.63 329.50 L431.63 330.20 L432.49 330.20 L432.49 330.94 L433.36 330.94 L433.36 331.69 L434.22 331.69 L434.22 334.19 L435.09 334.19 L435.09 348.45 L435.95 348.45 L435.95 340.61 L436.82 340.61 L436.82 333.93 L437.68 333.93 L437.68 334.00 L438.55 334.00 L438.55 334.08 L439.41 334.08 L439.41 334.15 L440.28 334.15 L440.28 335.92 L441.14 335.92 L441.14 348.99 L442.01 348.99 L442.01 338.10 L442.88 338.10 L442.88 334.98 L443.74 334.98 L443.74 335.63 L444.61 335.63 L444.61 336.28 L445.47 336.28 L445.47 336.93 L446.34 336.93 L446.34 337.58 L447.20 337.58 L447.20 350.95 L448.07 350.95 L448.07 340.36 L448.93 340.36 L448.93 339.07 L449.80 339.07 L449.80 339.20 L450.66 339.20 L450.66 339.34 L451.53 339.34 L451.53 339.47 L452.39 339.47 L452.39 340.40 L453.26 340.40 L453.26 351.18 L454.12 351.18 L454.12 344.78 L454.99 344.78 L454.99 340.00 L455.85 340.00 L455.85 340.06 L456.72 340.06 L456.72 340.11 L457.59 340.11 L457.59 340.17 L458.45 340.17 L458.45 340.75 L459.32 340.75 L459.32 352.24 L460.18 352.24 L460.18 342.69 L461.05 342.69 L461.05 340.39 L461.91 340.39 L461.91 340.44 L462.78 340.44 L462.78 340.50 L463.64 340.50 L463.64 340.52 L464.51 340.52 L464.51 341.11 L465.37 341.11 L465.37 351.92 L466.24 351.92 L466.24 344.64 L467.10 344.64 L467.10 340.52 L467.97 340.52 L467.97 340.52 L468.83 340.52 L468.83 340.52 L469.70 340.52 L469.70 340.52 L470.56 340.52 L470.56 342.24 L471.43 342.24 L471.43 351.85 L472.30 351.85 L472.30 343.91 L473.16 343.91 L473.16 341.06 L474.03 341.06 L474.03 341.32 L474.89 341.32 L474.89 341.57 L475.76 341.57 L475.76 341.83 L476.62 341.83 L476.62 342.48 L477.49 342.48 L477.49 353.06 L478.35 353.06 L478.35 345.90 L479.22 345.90 L479.22 342.68 L480.08 342.68 L480.08 342.80 L480.95 342.80 L480.95 342.91 L481.81 342.91 L481.81 343.02 L482.68 343.02 L482.68 344.43 L483.54 344.43 L483.54 354.06 L484.41 354.06 L484.41 345.87 L485.27 345.87 L485.27 343.46 L486.14 343.46 L486.14 343.57 L487.01 343.57 L487.01 343.72 L487.87 343.72 L487.87 343.88 L488.74 343.88 L488.74 347.37 L489.60 347.37 L489.60 353.51 L490.47 353.51 L490.47 344.56 L491.33 344.56 L491.33 344.52 L492.20 344.52 L492.20 344.68 L493.06 344.68 L493.06 344.84 L493.93 344.84 L493.93 345.00 L494.79 345.00 L494.79 346.70 L495.66 346.70 L495.66 354.97 L496.52 354.97 L496.52 347.66 L497.39 347.66 L497.39 347.29 L498.25 347.29 L498.25 347.94 L499.12 347.94 L499.12 348.02 L499.98 348.02 L499.98 347.79 L500.85 347.79 L500.85 348.86 L501.72 348.86 L501.72 354.65 L502.58 354.65 L502.58 350.75 L503.45 350.75 L503.45 346.84 L504.31 346.84 L504.31 346.77 L505.18 346.77 L505.18 347.09 L506.04 347.09 L506.04 347.41 L506.91 347.41 L506.91 349.15 L507.77 349.15 L507.77 355.44 L508.64 355.44 L508.64 349.97 L509.50 349.97 L509.50 348.69 L510.37 348.69 L510.37 349.01 L511.23 349.01 L511.23 349.33 L512.10 349.33 L512.10 349.66 L512.96 349.66 L512.96 350.59 L513.83 350.59 L513.83 355.93 L514.69 355.93 L514.69 351.43 L515.56 351.43 L515.56 350.15 L516.43 350.15 L516.43 350.12 L517.29 350.12 L517.29 350.10 L518.16 350.10 L518.16 350.08 L519.02 350.08 L519.02 350.37 L519.89 350.37 L519.89 355.93 L520.75 355.93 L520.75 352.14 L521.62 352.14 L521.62 350.65 L522.48 350.65 L522.48 350.87 L523.35 350.87 L523.35 351.09 L524.21 351.09 L524.21 351.27 L525.08 351.27 L525.08 351.66 L525.94 351.66 L525.94 356.22 L526.81 356.22 L526.81 353.70 L527.67 353.70 L527.67 351.60 L528.54 351.60 L528.54 351.69 L529.41 351.69 L529.41 351.77 L530.27 351.77 L530.27 351.85 L531.14 351.85 L531.14 351.89 L532.00 351.89 L532.00 356.63 L532.87 356.63 L532.87 352.64 L533.73 352.64 L533.73 350.98 L534.60 350.98 L534.60 350.77 L535.46 350.77 L535.46 350.55 L536.33 350.55 L536.33 350.33 L537.19 350.33 L537.19 352.55 L538.06 352.55 L538.06 356.16 L538.92 356.16 L538.92 352.46 L539.79 352.46 L539.79 350.04 L540.65 350.04 L540.65 349.98 L541.52 349.98 L541.52 349.92 L542.38 349.92 L542.38 349.86 L543.25 349.86 L543.25 350.36 L544.12 350.36 L544.12 356.12 L544.98 356.12 L544.98 351.16 L545.85 351.16 L545.85 348.45 L546.71 348.45 L546.71 348.05 L547.58 348.05 L547.58 347.64 L548.44 347.64 L548.44 346.88 L549.31 346.88 L549.31 346.34 L550.17 346.34 L550.17 355.01 L551.04 355.01 L551.04 348.04 L551.90 348.04 L551.90 343.84 L552.77 343.84 L552.77 343.16 L553.63 343.16 L553.63 342.52 L554.50 342.52 L554.50 341.89 L555.36 341.89 L555.36 342.81 L556.23 342.81 L556.23 354.20 L557.09 354.20 L557.09 345.24 L557.96 345.24 L557.96 339.00 L558.83 339.00 L558.83 338.04 L559.69 338.04 L559.69 337.07 L560.56 337.07 L560.56 336.10 L561.42 336.10 L561.42 338.62 L562.29 338.62 L562.29 353.17 L563.15 353.17 L563.15 338.10 L564.02 338.10 L564.02 331.91 L564.88 331.91 L564.88 330.82 L565.75 330.82 L565.75 329.73 L566.61 329.73 L566.61 328.69 L567.48 328.69 L567.48 333.86 L568.34 333.86 L568.34 351.81 L569.21 351.81 L569.21 337.30 L570.07 337.30 L570.07 325.43 L570.94 325.43 L570.94 324.62 L571.80 324.62 L571.80 323.81 L572.67 323.81 L572.67 322.99 L573.54 322.99 L573.54 331.80 L574.40 331.80 L574.40 350.67 L575.27 350.67 L575.27 331.12 L576.13 331.12 L576.13 319.69 L577.00 319.69 L577.00 318.86 L577.86 318.86 L577.86 318.04 L578.73 318.04 L578.73 317.65 L579.59 317.65 L579.59 321.50 L580.46 321.50 L580.46 349.93 L581.32 349.93 L581.32 331.06 L582.19 331.06 L582.19 319.22 L583.05 319.22 L583.05 319.87 L583.92 319.87 L583.92 318.82 L584.78 318.82 L584.78 317.76 L585.65 317.76 L585.65 318.81 L586.51 318.81 L586.51 349.63 L587.38 349.63 L587.38 328.15 L588.25 328.15 L588.25 314.20 L589.11 314.20 L589.11 312.63 L589.98 312.63 L589.98 311.07 L590.84 311.07 L590.84 310.79 L591.71 310.79 L591.71 312.96 L592.57 312.96 L592.57 348.51 L593.44 348.51 L593.44 322.55 L594.30 322.55 L594.30 310.32 L595.17 310.32 L595.17 310.20 L596.03 310.20 L596.03 310.25 L596.90 310.25 L596.90 310.43 L597.76 310.43 L597.76 311.99 L598.63 311.99 L598.63 348.56 L599.49 348.56 L599.49 325.22 L600.36 325.22 L600.36 311.18 L601.22 311.18 L601.22 311.72 L602.09 311.72 L602.09 312.26 L602.96 312.26 L602.96 312.80 L603.82 312.80 L603.82 317.58 L604.69 317.58 L604.69 349.17 L605.55 349.17 L605.55 328.35 L606.42 328.35 L606.42 314.68 L607.28 314.68 L607.28 315.06 L608.15 315.06 L608.15 315.44 L609.01 315.44 L609.01 315.82 L609.88 315.82 L609.88 325.45 L610.74 325.45 L610.74 349.75 L611.61 349.75 L611.61 331.08 L612.47 331.08 L612.47 318.47 L613.34 318.47 L613.34 319.34 L614.20 319.34 L614.20 320.21 L615.07 320.21 L615.07 320.52 L615.94 320.52 L615.94 325.18 L616.80 325.18 L616.80 350.61 L617.67 350.61 L617.67 331.47 L618.53 331.47 L618.53 321.53 L619.40 321.53 L619.40 321.66 L620.26 321.66 L620.26 321.79 L621.13 321.79 L621.13 321.92 L621.99 321.92 L621.99 325.40 L622.86 325.40 L622.86 350.89 L623.72 350.89 L623.72 329.94 L624.59 329.94 L624.59 323.43 L625.45 323.43 L625.45 323.91 L626.32 323.91 L626.32 324.40 L627.18 324.40 L627.18 324.88 L628.05 324.88 L628.05 329.32 L628.91 329.32 L628.91 351.58 L629.78 351.58 L629.78 333.44 L630.65 333.44 L630.65 327.00 L631.51 327.00 L631.51 327.55 L632.38 327.55 L632.38 328.10 L633.24 328.10 L633.24 328.66 L634.11 328.66 L634.11 334.73 L634.97 334.73 L634.97 352.24 L635.84 352.24 L635.84 336.41 L636.70 336.41 L636.70 329.28 L637.57 329.28 L637.57 329.33 L638.43 329.33 L638.43 329.67 L639.30 329.67 L639.30 330.17 L640.16 330.17 L640.16 333.25 L641.03 333.25 L641.03 352.63 L641.89 352.63 L641.89 341.24 L642.76 341.24 L642.76 331.99 L643.62 331.99 L643.62 331.71 L644.49 331.71 L644.49 331.44 L645.36 331.44 L645.36 331.16 L646.22 331.16 L646.22 334.63 L647.09 334.63 L647.09 352.52 L647.95 352.52 L647.95 334.63 L648.82 334.63 L648.82 330.73 L649.68 330.73 L649.68 330.83 L650.55 330.83 L650.55 331.04 L651.41 331.04 L651.41 332.34 L652.28 332.34 L652.28 335.25 L653.14 335.25 L653.14 353.39 L654.01 353.39 L654.01 343.92 L654.87 343.92 L654.87 335.35 L655.74 335.35 L655.74 335.21 L656.60 335.21 L656.60 335.06 L657.47 335.06 L657.47 333.40 L658.33 333.40 L658.33 335.79 L659.20 335.79 L659.20 352.37 L660.07 352.37 L660.07 332.14 L660.93 332.14 L660.93 326.77 L661.80 326.77 L661.80 326.66 L662.66 326.66 L662.66 326.55 L663.53 326.55 L663.53 326.43 L664.39 326.43 L664.39 334.70 L665.26 334.70 L665.26 351.64 L666.12 351.64 L666.12 334.85 L666.99 334.85 L666.99 326.07 L667.85 326.07 L667.85 326.00 L668.72 326.00 L668.72 325.93 L669.58 325.93 L669.58 325.86 L670.45 325.86 L670.45 331.29 L671.31 331.29 L671.31 351.44 L672.18 351.44 L672.18 333.56 L673.04 333.56 L673.04 324.28 L673.91 324.28 L673.91 323.83 L674.78 323.83 L674.78 324.75 L675.64 324.75 L675.64 325.78 L676.51 325.78 L676.51 332.57 L677.37 332.57 L677.37 351.96 L678.24 351.96 L678.24 332.85 L679.10 332.85 L679.10 328.18 L679.97 328.18 L679.97 327.91 L680.83 327.91 L680.83 327.64 L681.70 327.64 L681.70 327.38 L682.56 327.38 L682.56 327.07 L683.43 327.07 L683.43 351.75 L684.29 351.75 L684.29 331.74 L685.16 331.74 L685.16 326.12 L686.02 326.12 L686.02 325.80 L686.89 325.80 L686.89 324.62 L687.75 324.62 L687.75 321.98 L688.62 321.98 L688.62 324.25 L689.49 324.25 L689.49 349.74 L690.35 349.74 L690.35 322.57 L691.22 322.57 L691.22 313.68 L692.08 313.68 L692.08 312.30 L692.95 312.30 L692.95 310.92 L693.81 310.92 L693.81 309.54 L694.68 309.54 L694.68 320.27 L695.54 320.27 L695.54 348.10 L696.41 348.10 L696.41 325.28 L697.27 325.28 L697.27 308.50 L698.14 308.50 L698.14 308.50 L699.00 308.50 L699.00 307.52 L699.87 307.52 L699.87 306.20 L700.73 306.20 L700.73 314.41 L701.60 314.41 L701.60 347.05 L702.47 347.05 L702.47 315.18 L703.33 315.18 L703.33 300.04 L704.20 300.04 L704.20 299.00 L705.06 299.00 L705.06 298.87 L705.93 298.87 L705.93 298.73 L706.79 298.73 L706.79 313.47 L707.66 313.47 L707.66 346.09 L708.52 346.09 L708.52 315.51 L709.39 315.51 L709.39 299.45 L710.25 299.45 L710.25 299.98 L711.12 299.98 L711.12 300.51 L711.98 300.51 L711.98 301.34 L712.85 301.34 L712.85 314.80 L713.71 314.80 L713.71 347.15 L714.58 347.15 L714.58 358.0 Z"/></g>
<rect x="89" y="358" width="626" height="1" fill="#cdd1d8" shape-rendering="crispEdges"/>
<g font-size="12" fill="#666" text-anchor="end">
<text x="74" y="175">6k</text>
<text x="74" y="237">4k</text>
<text x="74" y="300">2k</text>
<text x="74" y="362">0</text>
</g>
<text x="48.4" y="264.5" font-size="12" letter-spacing="0.45" fill="#666" text-anchor="middle" transform="rotate(-90 48.4 264.5)">Novel Coronavirus Daily Deaths</text>
<g font-size="11.2" letter-spacing="0.5" fill="#666"><text x="91.6" y="374.2" transform="rotate(-45 91.6 374.2)" text-anchor="end">Feb 15, 2020</text><text x="111.5" y="374.2" transform="rotate(-45 111.5 374.2)" text-anchor="end">Mar 09, 2020</text><text x="131.4" y="374.2" transform="rotate(-45 131.4 374.2)" text-anchor="end">Apr 01, 2020</text><text x="151.3" y="374.2" transform="rotate(-45 151.3 374.2)" text-anchor="end">Apr 24, 2020</text><text x="171.2" y="374.2" transform="rotate(-45 171.2 374.2)" text-anchor="end">May 17, 2020</text><text x="191.1" y="374.2" transform="rotate(-45 191.1 374.2)" text-anchor="end">Jun 09, 2020</text><text x="211.0" y="374.2" transform="rotate(-45 211.0 374.2)" text-anchor="end">Jul 02, 2020</text><text x="230.9" y="374.2" transform="rotate(-45 230.9 374.2)" text-anchor="end">Jul 25, 2020</text><text x="250.8" y="374.2" transform="rotate(-45 250.8 374.2)" text-anchor="end">Aug 17, 2020</text><text x="270.7" y="374.2" transform="rotate(-45 270.7 374.2)" text-anchor="end">Sep 09, 2020</text><text x="290.6" y="374.2" transform="rotate(-45 290.6 374.2)" text-anchor="end">Oct 02, 2020</text><text x="310.5" y="374.2" transform="rotate(-45 310.5 374.2)" text-anchor="end">Oct 25, 2020</text><text x="330.4" y="374.2" transform="rotate(-45 330.4 374.2)" text-anchor="end">Nov 17, 2020</text><text x="350.3" y="374.2" transform="rotate(-45 350.3 374.2)" text-anchor="end">Dec 10, 2020</text><text x="370.2" y="374.2" transform="rotate(-45 370.2 374.2)" text-anchor="end">Jan 02, 2021</text><text x="390.1" y="374.2" transform="rotate(-45 390.1 374.2)" text-anchor="end">Jan 25, 2021</text><text x="410.0" y="374.2" transform="rotate(-45 410.0 374.2)" text-anchor="end">Feb 17, 2021</text><text x="429.9" y="374.2" transform="rotate(-45 429.9 374.2)" text-anchor="end">Mar 12, 2021</text><text x="449.8" y="374.2" transform="rotate(-45 449.8 374.2)" text-anchor="end">Apr 04, 2021</text><text x="469.7" y="374.2" transform="rotate(-45 469.7 374.2)" text-anchor="end">Apr 27, 2021</text><text x="489.6" y="374.2" transform="rotate(-45 489.6 374.2)" text-anchor="end">May 20, 2021</text><text x="509.5" y="374.2" transform="rotate(-45 509.5 374.2)" text-anchor="end">Jun 12, 2021</text><text x="529.4" y="374.2" transform="rotate(-45 529.4 374.2)" text-anchor="end">Jul 05, 2021</text><text x="549.3" y="374.2" transform="rotate(-45 549.3 374.2)" text-anchor="end">Jul 28, 2021</text><text x="569.2" y="374.2" transform="rotate(-45 569.2 374.2)" text-anchor="end">Aug 20, 2021</text><text x="589.1" y="374.2" transform="rotate(-45 589.1 374.2)" text-anchor="end">Sep 12, 2021</text><text x="609.0" y="374.2" transform="rotate(-45 609.0 374.2)" text-anchor="end">Oct 05, 2021</text><text x="629.0" y="374.2" transform="rotate(-45 629.0 374.2)" text-anchor="end">Oct 28, 2021</text><text x="648.9" y="374.2" transform="rotate(-45 648.9 374.2)" text-anchor="end">Nov 20, 2021</text><text x="668.8" y="374.2" transform="rotate(-45 668.8 374.2)" text-anchor="end">Dec 13, 2021</text><text x="688.7" y="374.2" transform="rotate(-45 688.7 374.2)" text-anchor="end">Jan 05, 2022</text><text x="708.6" y="374.2" transform="rotate(-45 708.6 374.2)" text-anchor="end">Jan 28, 2022</text></g>
<path d="M103.30 357.10 C104.82 357.09 114.06 357.11 116.00 357.00 C117.94 356.89 118.72 356.60 119.50 356.20 C120.28 355.80 121.62 355.24 122.50 353.70 C123.38 352.16 125.77 346.70 126.80 343.40 C127.83 340.10 130.07 330.95 131.10 326.20 C132.13 321.45 134.57 307.63 135.40 303.80 C136.23 299.97 137.27 296.05 138.00 294.30 C138.73 292.55 140.67 290.02 141.50 289.20 C142.33 288.38 144.18 287.70 144.90 287.50 C145.62 287.30 146.89 287.20 147.50 287.50 C148.11 287.80 149.28 289.28 150.00 290.00 C150.72 290.72 152.46 292.78 153.50 293.50 C154.54 294.22 157.56 295.17 158.70 296.00 C159.84 296.83 162.18 299.15 163.00 300.40 C163.82 301.65 164.78 305.16 165.50 306.40 C166.22 307.64 168.46 310.09 169.00 310.70 C169.54 311.31 169.47 310.77 170.00 311.50 C170.53 312.23 172.60 315.26 173.40 316.80 C174.20 318.34 175.98 323.24 176.70 324.30 C177.42 325.36 178.67 325.60 179.40 325.60 C180.13 325.60 181.83 323.74 182.80 324.30 C183.77 324.86 186.29 329.09 187.50 330.30 C188.71 331.51 191.60 333.51 192.90 334.40 C194.20 335.29 197.17 337.22 198.30 337.70 C199.43 338.18 201.33 338.32 202.30 338.40 C203.27 338.48 205.26 338.16 206.40 338.40 C207.54 338.64 210.59 341.13 211.80 340.40 C213.01 339.67 215.37 333.43 216.50 332.30 C217.63 331.17 220.14 331.40 221.20 331.00 C222.26 330.60 224.33 329.80 225.30 329.00 C226.27 328.20 228.26 325.44 229.30 324.30 C230.34 323.16 232.87 319.82 234.00 319.50 C235.13 319.18 237.32 321.28 238.70 321.60 C240.08 321.92 244.04 321.88 245.50 322.20 C246.96 322.52 249.45 323.81 250.90 324.30 C252.35 324.79 256.15 325.82 257.60 326.30 C259.05 326.78 261.87 327.65 263.00 328.30 C264.13 328.95 266.30 331.09 267.00 331.70 C267.70 332.31 268.21 333.15 268.80 333.40 C269.39 333.65 271.30 334.10 271.90 333.80 C272.50 333.50 273.20 331.02 273.80 330.90 C274.40 330.78 276.07 332.31 276.90 332.80 C277.73 333.29 279.49 334.70 280.70 335.00 C281.91 335.30 285.42 335.26 287.00 335.30 C288.58 335.34 292.16 335.28 293.90 335.30 C295.64 335.32 300.13 335.88 301.50 335.50 C302.87 335.12 304.10 332.65 305.30 332.10 C306.50 331.55 310.30 331.34 311.50 330.90 C312.70 330.46 314.39 329.38 315.30 328.40 C316.21 327.42 318.04 323.98 319.10 322.70 C320.16 321.42 322.97 318.83 324.10 317.70 C325.23 316.57 327.67 314.81 328.50 313.30 C329.33 311.79 330.24 306.91 331.00 305.10 C331.76 303.29 333.88 298.48 334.80 298.20 C335.72 297.92 337.88 303.22 338.70 302.80 C339.52 302.38 340.90 297.08 341.60 294.70 C342.30 292.32 343.53 285.29 344.50 283.00 C345.47 280.71 348.55 277.10 349.70 275.60 C350.85 274.10 353.04 271.64 354.10 270.50 C355.16 269.36 357.62 265.84 358.50 266.10 C359.38 266.36 360.79 270.94 361.40 272.70 C362.01 274.46 362.98 280.98 363.60 280.80 C364.22 280.62 365.89 272.78 366.60 271.20 C367.31 269.62 368.80 268.30 369.50 267.60 C370.20 266.90 371.79 266.90 372.40 265.40 C373.01 263.90 373.81 257.31 374.60 255.10 C375.39 252.89 378.03 247.00 379.00 247.00 C379.97 247.00 381.81 254.36 382.70 255.10 C383.59 255.84 385.51 253.91 386.40 253.20 C387.29 252.49 389.31 249.06 390.10 249.20 C390.89 249.34 392.04 252.90 393.00 254.40 C393.96 255.90 396.96 259.50 398.10 261.70 C399.24 263.90 401.53 270.14 402.50 272.70 C403.47 275.26 405.49 280.71 406.20 283.00 C406.91 285.29 407.79 289.95 408.40 291.80 C409.01 293.65 410.59 298.05 411.30 298.40 C412.01 298.75 413.23 294.62 414.30 294.70 C415.37 294.78 419.02 297.76 420.20 299.10 C421.38 300.44 423.14 303.69 424.10 305.90 C425.06 308.11 427.30 315.70 428.20 317.50 C429.10 319.30 430.63 319.84 431.60 320.90 C432.57 321.96 434.99 325.57 436.30 326.30 C437.61 327.03 441.02 326.18 442.50 327.00 C443.98 327.82 447.05 332.20 448.60 333.10 C450.15 334.00 453.60 334.25 455.40 334.50 C457.20 334.75 461.63 335.12 463.60 335.20 C465.57 335.28 470.00 334.88 471.80 335.20 C473.60 335.52 476.80 337.41 478.60 337.90 C480.40 338.39 484.84 338.89 486.80 339.30 C488.76 339.71 493.44 340.57 494.90 341.30 C496.36 342.03 497.85 345.15 499.00 345.40 C500.15 345.65 502.70 343.08 504.50 343.40 C506.30 343.72 512.18 347.56 514.00 348.10 C515.82 348.64 518.45 347.73 519.70 347.90 C520.95 348.07 523.08 349.21 524.40 349.50 C525.72 349.79 529.19 350.46 530.70 350.30 C532.21 350.14 535.49 348.52 537.00 348.20 C538.51 347.88 541.98 348.02 543.30 347.60 C544.62 347.18 546.87 345.71 548.00 344.70 C549.13 343.69 551.56 340.42 552.70 339.20 C553.84 337.98 556.36 335.90 557.50 334.50 C558.64 333.10 561.07 329.29 562.20 327.50 C563.33 325.71 565.58 321.50 566.90 319.60 C568.22 317.70 571.78 313.49 573.20 311.70 C574.62 309.91 577.76 305.54 578.70 304.70 C579.64 303.86 580.44 304.33 581.00 304.70 C581.56 305.07 582.82 307.90 583.40 307.80 C583.98 307.70 585.24 304.66 585.80 303.90 C586.36 303.14 587.54 302.48 588.10 301.50 C588.66 300.52 589.55 296.52 590.50 295.70 C591.45 294.88 594.78 294.66 596.00 294.70 C597.22 294.74 599.57 295.38 600.70 296.00 C601.83 296.62 604.18 299.05 605.40 299.90 C606.62 300.75 609.78 302.10 610.90 303.10 C612.02 304.10 613.78 307.40 614.70 308.20 C615.62 309.00 617.65 309.51 618.60 309.80 C619.55 310.09 621.36 309.94 622.60 310.60 C623.84 311.26 627.48 314.17 628.90 315.30 C630.32 316.43 633.27 319.40 634.40 320.00 C635.53 320.60 637.27 319.83 638.30 320.30 C639.33 320.77 641.87 323.71 643.00 323.90 C644.13 324.09 646.75 322.08 647.70 321.90 C648.65 321.72 650.14 321.60 650.90 322.40 C651.66 323.20 653.26 327.94 654.00 328.60 C654.74 329.26 656.25 329.30 657.10 327.90 C657.95 326.50 660.06 318.32 661.10 316.90 C662.14 315.48 664.67 316.26 665.80 316.10 C666.93 315.94 669.47 315.98 670.50 315.60 C671.53 315.22 673.45 312.47 674.40 312.90 C675.35 313.33 677.45 318.64 678.40 319.20 C679.35 319.76 681.27 318.07 682.30 317.60 C683.33 317.13 686.06 317.09 687.00 315.30 C687.94 313.51 689.15 305.44 690.10 302.70 C691.05 299.96 693.86 293.72 694.90 292.50 C695.94 291.28 698.06 293.06 698.80 292.50 C699.54 291.94 700.44 289.31 701.10 287.80 C701.76 286.29 703.45 280.94 704.30 279.90 C705.15 278.86 707.26 278.81 708.20 279.10 C709.14 279.39 711.40 281.45 712.10 282.30 C712.80 283.15 713.77 285.73 714.00 286.20" fill="none" stroke="#b5730f" stroke-width="3.15" stroke-linejoin="round" stroke-linecap="round"/>
<circle cx="380.2" cy="246.6" r="10" fill="#b59a78" fill-opacity="0.3"/>
<path d="M380.2 241.3 L385.5 246.6 L380.2 251.9 L374.9 246.6 Z" fill="#b5730f" stroke="#fffbe8" stroke-width="1"/>
<g>
<path d="M279 184.5 H478 Q480.5 184.5 480.5 187 V229 Q480.5 231.5 478 231.5 H385 L379 237.5 L373 231.5 H279 Q276.5 231.5 276.5 229 V187 Q276.5 184.5 279 184.5 Z" fill="none" stroke="#000" stroke-opacity="0.05" stroke-width="5" transform="translate(1 1)"/>
<path d="M279 184.5 H478 Q480.5 184.5 480.5 187 V229 Q480.5 231.5 478 231.5 H385 L379 237.5 L373 231.5 H279 Q276.5 231.5 276.5 229 V187 Q276.5 184.5 279 184.5 Z" fill="none" stroke="#000" stroke-opacity="0.08" stroke-width="3" transform="translate(1 1)"/>
<path d="M279 184.5 H478 Q480.5 184.5 480.5 187 V229 Q480.5 231.5 478 231.5 H385 L379 237.5 L373 231.5 H279 Q276.5 231.5 276.5 229 V187 Q276.5 184.5 279 184.5 Z" fill="#f7f7f7" fill-opacity="0.95" stroke="#ad7a2c" stroke-width="1.1"/>
<text x="283.6" y="203.8" font-size="10.5" fill="#333">Jan 16, 2021</text>
<circle cx="288.6" cy="215.5" r="3.5" fill="#b5730f"/>
<text x="298" y="219.4" font-size="12.5" letter-spacing="0.39" fill="#333">7-day moving average: <tspan font-weight="bold">3 566</tspan></text>
</g>
<g font-size="12" font-weight="bold">
<circle cx="129.1" cy="454.1" r="6" fill="#a0a0a0"/>
<text x="142.9" y="459" fill="#333">Daily Deaths</text>
<path d="M236.8 455.3 H252.8" stroke="#ccc" stroke-width="2"/>
<circle cx="245" cy="455.3" r="4" fill="#ccc"/>
<text x="258" y="459" fill="#ccc" font-size="12.4">3-day moving average</text>
<rect x="411.5" y="451.8" width="12" height="12" rx="2" fill="#fff" stroke="#767676" stroke-width="1"/>
<path d="M431.2 454.9 H446.9" stroke="#b5730f" stroke-width="2"/>
<path d="M439.2 450.9 L443.2 454.9 L439.2 458.9 L435.2 454.9 Z" fill="#b5730f"/>
<text x="453.4" y="459.1" fill="#333" font-size="12.3">7-day moving average</text>
<rect x="606.9" y="453.1" width="9.4" height="8.8" rx="2.2" fill="#1f6fe0" stroke="#000" stroke-width="2"/>
<path d="M608.6 458.3 L610.5 460.2 L614.6 454.6" fill="none" stroke="#fff" stroke-width="1.8"/>
</g>
</svg>
</body></html>
